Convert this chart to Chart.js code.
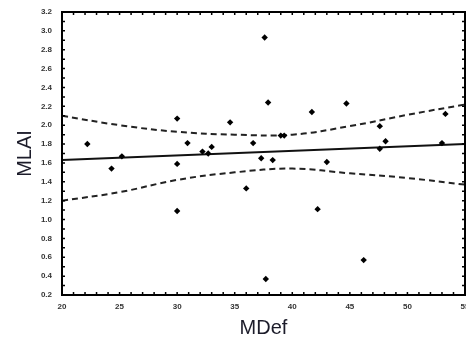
<!DOCTYPE html>
<html>
<head>
<meta charset="utf-8">
<script src="https://cdn.jsdelivr.net/npm/chart.js@4"></script>
<style>
    html, body { margin: 0; padding: 0; background: #fff; overflow: hidden; }
    #wrap { width: 466px; height: 343px; }
</style>
</head>
<body>
<div id="wrap"><canvas id="mlai-chart"></canvas></div>
<script>
// scatter values
const mdef = [22.2, 24.3, 25.2, 37.6, 37.9, 41.7, 30.0, 34.6, 39.0, 39.3, 30.9, 33.0, 36.6, 32.2, 32.7,
    30.0, 37.3, 38.3, 44.7, 47.6, 53.3, 48.1, 47.6, 53.0, 43.0, 30.0, 36.0, 37.7, 42.2, 46.2];
const mlai = [1.80, 1.54, 1.67, 2.93, 2.24, 2.14, 2.07, 2.03, 1.89, 1.89, 1.81, 1.77, 1.81, 1.72, 1.70,
    1.59, 1.65, 1.63, 2.23, 1.99, 2.12, 1.83, 1.75, 1.81, 1.61, 1.09, 1.33, 0.37, 1.11, 0.57];

// fitted line and confidence band
const fitX = [20, 55];
const fitY = [1.63, 1.80];
const bandX = [20, 25, 30, 35, 40, 45, 50, 55];
const upperBand = [2.10, 2.00, 1.93, 1.90, 1.90, 1.99, 2.11, 2.22];
const lowerBand = [1.20, 1.29, 1.42, 1.50, 1.54, 1.49, 1.44, 1.37];

const xMin = 20, xMax = 55, yMin = 0.2, yMax = 3.2;

function toPoints(xs, ys){
    return xs.map((x, i) => ({x: x, y: ys[i]}));
}

// small inward ticks on all four sides of the frame
const minorTicks = {
    id: 'minorTicks',
    afterDraw(chart){
        const {ctx, chartArea} = chart;
        const xs = chart.scales.x, ys = chart.scales.y;
        ctx.save();
        ctx.strokeStyle = '#000';
        ctx.lineWidth = 1.5;
        ctx.beginPath();
        for(let v = xMin; v <= xMax; v += 1){
            const px = xs.getPixelForValue(v);
            ctx.moveTo(px, chartArea.bottom); ctx.lineTo(px, chartArea.bottom - 3);
            ctx.moveTo(px, chartArea.top); ctx.lineTo(px, chartArea.top + 3);
        }
        for(let k = 0; k <= 30; k++){
            const py = ys.getPixelForValue(yMin + k * 0.1);
            ctx.moveTo(chartArea.left, py); ctx.lineTo(chartArea.left + 3, py);
            ctx.moveTo(chartArea.right, py); ctx.lineTo(chartArea.right - 3, py);
        }
        ctx.stroke();
        ctx.lineWidth = 2;
        ctx.strokeRect(chartArea.left, chartArea.top, chartArea.right - chartArea.left, chartArea.bottom - chartArea.top);
        ctx.restore();
    }
};

const tickFont = {family: 'Liberation Sans, Arial, sans-serif', size: 8, weight: 'bold'};
const titleFont = {family: 'Liberation Sans, Arial, sans-serif', size: 20};

new Chart(document.getElementById('mlai-chart'), {
    type: 'scatter',
    data: {
        datasets: [{
            label: 'points',
            data: toPoints(mdef, mlai),
            pointStyle: 'rectRot',
            pointRadius: 3.2,
            backgroundColor: '#000',
            borderColor: '#000',
            borderWidth: 0
        },
        {
            label: 'fit',
            data: toPoints(fitX, fitY),
            showLine: true,
            borderColor: '#111',
            borderWidth: 2,
            pointRadius: 0
        },
        {
            label: 'upper',
            data: toPoints(bandX, upperBand),
            showLine: true,
            borderColor: '#222',
            borderWidth: 2,
            borderDash: [6, 4],
            tension: 0.4,
            pointRadius: 0
        },
        {
            label: 'lower',
            data: toPoints(bandX, lowerBand),
            showLine: true,
            borderColor: '#222',
            borderWidth: 2,
            borderDash: [6, 4],
            tension: 0.4,
            pointRadius: 0
        }]
    },
    options: {
        responsive: true,
        maintainAspectRatio: false,
        animation: false,
        layout: {autoPadding: false, padding: {top: 12, right: 1, left: 0, bottom: 0}},
        plugins: {
            legend: {display: false},
            tooltip: {enabled: false}
        },
        scales: {
            x: {
                type: 'linear',
                min: xMin,
                max: xMax,
                afterFit: s => { s.height = 48; s.paddingLeft = 0; s.paddingRight = 0; },
                grid: {display: false, drawTicks: false},
                border: {display: false},
                ticks: {stepSize: 5, padding: 7, color: '#333', font: tickFont, maxRotation: 0},
                title: {display: true, text: 'MDef', color: '#1c1c2a', font: titleFont, padding: {top: 0, bottom: 3}}
            },
            y: {
                type: 'linear',
                min: yMin,
                max: yMax,
                afterFit: s => { s.width = 62; s.paddingTop = 0; s.paddingBottom = 0; },
                grid: {display: false, drawTicks: false},
                border: {display: false},
                ticks: {stepSize: 0.2, padding: 10, color: '#333', font: tickFont,
                    callback: v => v.toFixed(1)},
                title: {display: true, text: 'MLAI', color: '#1c1c2a', font: titleFont, padding: {top: 13, bottom: 0}}
            }
        }
    },
    plugins: [minorTicks]
});
</script>
</body>
</html>
